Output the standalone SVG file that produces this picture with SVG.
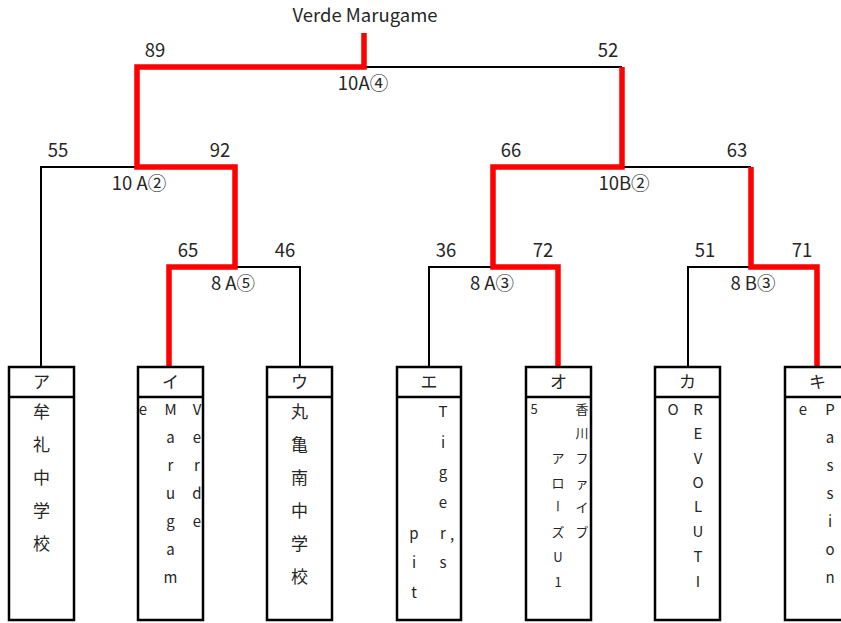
<svg xmlns="http://www.w3.org/2000/svg" width="841" height="623" viewBox="0 0 841 623">
<style>
text{font-family:"Noto Sans CJK JP","Noto Sans",sans-serif;fill:#262626}
.lbl{font-size:18.5px;text-anchor:middle}
.hd{font-size:17px;text-anchor:middle}
.jp{font-size:17px;text-anchor:middle}
.en{font-size:15px;text-anchor:middle}
.sm{font-size:13px;text-anchor:middle}
.blk{fill:none;stroke:#000;stroke-width:2}
.red{fill:none;stroke:#f00;stroke-width:5.5;stroke-linejoin:miter}
.box{fill:#fff;stroke:#000;stroke-width:2.5}
</style>
<g id="connectors">
<path class="blk" d="M41,367 V167 H137"/>
<path class="blk" d="M235,267 H300 V367"/>
<path class="blk" d="M429,367 V267 H493"/>
<path class="blk" d="M688,367 V267 H751"/>
<path class="blk" d="M622,167 H751"/>
<path class="blk" d="M364,67 H622"/>
<path class="red" d="M169,367 V267 H235 V167 H137 V67 H364 V33"/>
<path class="red" d="M558,367 V267 H493 V167 H622 V67"/>
<path class="red" d="M817,367 V267 H751 V167"/>
</g>
<g id="labels">
<text class="lbl" x="365" y="22">Verde Marugame</text>
<text class="lbl" x="155" y="57">89</text>
<text class="lbl" x="608" y="57">52</text>
<text class="lbl" x="363" y="90">10A④</text>
<text class="lbl" x="58" y="157">55</text>
<text class="lbl" x="220" y="157">92</text>
<text class="lbl" x="139" y="190">10 A②</text>
<text class="lbl" x="511" y="157">66</text>
<text class="lbl" x="737" y="157">63</text>
<text class="lbl" x="624" y="190">10B②</text>
<text class="lbl" x="188" y="257">65</text>
<text class="lbl" x="285" y="257">46</text>
<text class="lbl" x="233" y="290">8 A⑤</text>
<text class="lbl" x="446" y="257">36</text>
<text class="lbl" x="543" y="257">72</text>
<text class="lbl" x="492" y="290">8 A③</text>
<text class="lbl" x="705" y="257">51</text>
<text class="lbl" x="802" y="257">71</text>
<text class="lbl" x="753" y="290">8 B③</text>
</g>
<g id="node-a">
<rect class="box" x="9" y="367" width="65" height="253"/>
<line class="box" x1="9" y1="397" x2="74" y2="397"/>
<text class="hd" x="41.5" y="388">ア</text>
<text class="jp" x="41.5 41.5 41.5 41.5 41.5" y="418 451 484 517 550">牟礼中学校</text>
</g>
<g id="node-i">
<rect class="box" x="138" y="367" width="65" height="253"/>
<line class="box" x1="138" y1="397" x2="203" y2="397"/>
<text class="hd" x="170.5" y="388">イ</text>
<text class="en" x="197 197 197 197 197" y="415 443 471 499 527">Verde</text>
<text class="en" x="170.5 170.5 170.5 170.5 170.5 170.5 170.5" y="415 443 471 499 527 555 583">Marugam</text>
<text class="en" x="143" y="415">e</text>
</g>
<g id="node-u">
<rect class="box" x="267" y="367" width="65" height="253"/>
<line class="box" x1="267" y1="397" x2="332" y2="397"/>
<text class="hd" x="299.5" y="388">ウ</text>
<text class="jp" x="299.5 299.5 299.5 299.5 299.5 299.5" y="418 451 484 517 550 583">丸亀南中学校</text>
</g>
<g id="node-e">
<rect class="box" x="397" y="367" width="64" height="253"/>
<line class="box" x1="397" y1="397" x2="461" y2="397"/>
<text class="hd" x="429" y="388">エ</text>
<text class="en" x="443 443 443 443 443 443" y="417 448 478 508 539 568">Tigers</text>
<text class="en" x="452" y="540">,</text>
<text class="en" x="414 414 414" y="539 568 598">pit</text>
</g>
<g id="node-o">
<rect class="box" x="526" y="367" width="65" height="253"/>
<line class="box" x1="526" y1="397" x2="591" y2="397"/>
<text class="hd" x="558.5" y="388">オ</text>
<text class="sm" x="582 582 582 582 582 582" y="414 438 463 488 512 537">香川ファイブ</text>
<text class="sm" x="558 558" y="463 488">アロ</text>
<text x="558" y="506" style="writing-mode:vertical-rl;font-size:13px;text-anchor:middle">ー</text>
<text class="sm" x="558 558 558" y="537 562 587">ズU1</text>
<text class="sm" x="534" y="414">5</text>
</g>
<g id="node-ka">
<rect class="box" x="655" y="367" width="65" height="253"/>
<line class="box" x1="655" y1="397" x2="720" y2="397"/>
<text class="hd" x="687.5" y="388">カ</text>
<text class="en" x="698 698 698 698 698 698 698 698" y="415 439 464 488 512 537 562 587">REVOLUTI</text>
<text class="en" x="673" y="415">O</text>
</g>
<g id="node-ki">
<rect class="box" x="785" y="367" width="65" height="253"/>
<line class="box" x1="785" y1="397" x2="850" y2="397"/>
<text class="hd" x="817.5" y="388">キ</text>
<text class="en" x="830 830 830 830 830 830 830" y="415 443 471 499 527 555 583">Passion</text>
<text class="en" x="803" y="415">e</text>
</g>
</svg>
